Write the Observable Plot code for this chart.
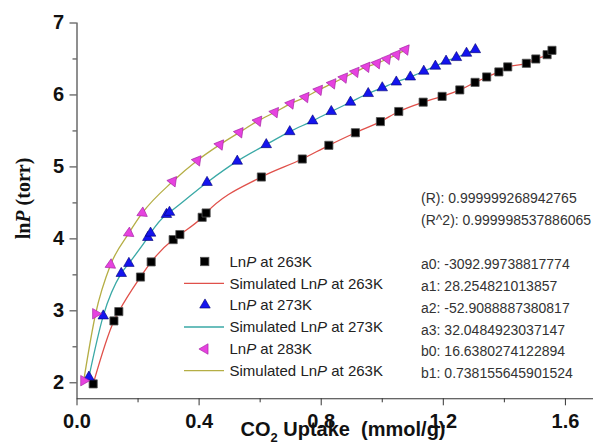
<!DOCTYPE html>
<html><head><meta charset="utf-8">
<script src="https://cdn.jsdelivr.net/npm/d3@7"></script>
<script src="https://cdn.jsdelivr.net/npm/@observablehq/plot@0.6"></script>
<style>body{margin:0;background:#fff} #chart{width:602px;height:448px}</style>
</head><body><div id="chart"></div>
<script>
// ---- data ----
const uptake263 = [0.053, 0.121, 0.137, 0.208, 0.243, 0.315, 0.337, 0.410, 0.423, 0.604, 0.738, 0.825, 0.912, 0.994, 1.054, 1.134, 1.196, 1.254, 1.304, 1.342, 1.382, 1.411, 1.472, 1.503, 1.540, 1.556];
const lnP263   = [1.985, 2.86, 2.99, 3.47, 3.68, 3.99, 4.06, 4.30, 4.36, 4.86, 5.11, 5.30, 5.475, 5.63, 5.77, 5.90, 5.98, 6.07, 6.175, 6.25, 6.32, 6.39, 6.44, 6.50, 6.56, 6.62];
const uptake273 = [0.039, 0.086, 0.145, 0.170, 0.232, 0.241, 0.293, 0.303, 0.426, 0.525, 0.620, 0.697, 0.772, 0.833, 0.896, 0.954, 1.000, 1.046, 1.092, 1.136, 1.174, 1.209, 1.243, 1.276, 1.305];
const lnP273   = [2.08, 2.93, 3.52, 3.66, 4.02, 4.08, 4.34, 4.37, 4.785, 5.08, 5.31, 5.49, 5.64, 5.77, 5.90, 6.02, 6.10, 6.18, 6.25, 6.33, 6.40, 6.47, 6.52, 6.58, 6.63];
const uptake283 = [0.022, 0.061, 0.110, 0.170, 0.214, 0.314, 0.394, 0.468, 0.532, 0.593, 0.648, 0.700, 0.748, 0.792, 0.836, 0.874, 0.912, 0.948, 0.983, 1.016, 1.047, 1.076];
const lnP283   = [2.03, 2.96, 3.64, 4.08, 4.36, 4.80, 5.09, 5.31, 5.48, 5.64, 5.76, 5.88, 5.97, 6.07, 6.16, 6.24, 6.32, 6.39, 6.44, 6.50, 6.56, 6.63];

const xTicks = [0, 0.4, 0.8, 1.2, 1.6];
const xMinor = [0.2, 0.6, 1.0, 1.4];
const yTicks = [2, 3, 4, 5, 6, 7];
const yMinor = [2.5, 3.5, 4.5, 5.5, 6.5];

const legendTemps = ["263K", "263K", "273K", "273K", "283K", "263K"];
const fitLabels = ["(R): 0.999999268942765", "(R^2): 0.999998537886065"];
const paramLabels = ["a0: -3092.99738817774", "a1: 28.254821013857", "a2: -52.9088887380817",
                     "a3: 32.0484923037147", "b0: 16.6380274122894", "b1: 0.738155645901524"];

// ---- build tables ----
const toRows = (xs, ys) => xs.map((x, i) => ({x, y: ys[i]}));
const s263 = toRows(uptake263, lnP263);
const s273 = toRows(uptake273, lnP273);
const s283 = toRows(uptake283, lnP283);

const C = {red: "#e0504a", teal: "#3aa9a6", olive: "#b5ae45", blue: "#1414ee", mag: "#e642df", axis: "#333"};
const yMin = 1.778;

const plot = Plot.plot({
  width: 602, height: 448,
  marginLeft: 76.5, marginRight: 9, marginTop: 22.5, marginBottom: 49.7,
  x: {domain: [0, 1.692]},
  y: {domain: [yMin, 7]},
  style: {fontFamily: "'Liberation Sans', Arial, sans-serif", background: "#fff", color: "#111"},
  marks: [
    Plot.ruleX([0], {stroke: C.axis, strokeWidth: 1.1}),
    Plot.ruleY([yMin], {stroke: C.axis, strokeWidth: 1.1}),
    Plot.axisX(xTicks, {tickSize: 7, tickPadding: 8, fontSize: 20, fontWeight: "bold", stroke: C.axis, fill: "#111", tickFormat: d => d.toFixed(1), label: null}),
    Plot.axisX(xMinor, {tickSize: 4, stroke: C.axis, fill: "none", label: null}),
    Plot.axisY(yTicks, {tickSize: 7, tickPadding: 6, fontSize: 20, fontWeight: "bold", stroke: C.axis, fill: "#111", tickFormat: d => String(d), label: null}),
    Plot.axisY(yMinor, {tickSize: 4, stroke: C.axis, fill: "none", label: null}),
    Plot.line(s263, {x: "x", y: "y", stroke: C.red, strokeWidth: 1.3, curve: "monotone-x"}),
    Plot.line(s273, {x: "x", y: "y", stroke: C.teal, strokeWidth: 1.3, curve: "monotone-x"}),
    Plot.line(s283, {x: "x", y: "y", stroke: C.olive, strokeWidth: 1.3, curve: "monotone-x"}),
    Plot.dot(s263, {x: "x", y: "y", symbol: "square", r: 4.6, fill: "#000", stroke: "#555", strokeWidth: 0.8}),
    Plot.dot(s273, {x: "x", y: "y", symbol: "triangle", r: 3.9, fill: C.blue, stroke: "#000070", strokeWidth: 0.6}),
    Plot.dot(s283, {x: "x", y: "y", symbol: "triangle", r: 3.9, fill: C.mag, stroke: "#a020a0", strokeWidth: 0.6,
                    rotate: d => d.y < 3.2 ? 90 : (d.y < 4.5 ? 125 : 158)})
  ]
});

document.getElementById("chart").appendChild(plot);

// ---- legend, annotations and axis titles ----
const svg = d3.select(plot);
const g = svg.append("g").attr("font-family", "'Liberation Sans', Arial, sans-serif").attr("text-anchor", "start");
const rowY = [261.5, 283.3, 305, 327, 349, 370.7];
const lineColors = [null, C.red, null, C.teal, null, C.olive];
rowY.forEach((y, i) => {
  if (lineColors[i]) {
    g.append("line").attr("x1", 184).attr("x2", 224).attr("y1", y).attr("y2", y)
      .attr("stroke", lineColors[i]).attr("stroke-width", 1.3);
  } else if (i === 0) {
    g.append("rect").attr("x", 200.5).attr("y", y - 4.2).attr("width", 8.4).attr("height", 8.4)
      .attr("fill", "#000").attr("stroke", "#555").attr("stroke-width", 0.8);
  } else {
    const rot = i === 2 ? 0 : 270;
    g.append("path").attr("d", d3.symbol(d3.symbolTriangle, 48)())
      .attr("transform", `translate(205,${y}) rotate(${rot})`)
      .attr("fill", i === 2 ? C.blue : C.mag).attr("stroke", i === 2 ? "#000070" : "#a020a0").attr("stroke-width", 0.6);
  }
  const t = g.append("text").attr("x", 229.5).attr("y", y).attr("dy", "0.35em")
    .attr("font-size", 15).attr("fill", "#222");
  if (lineColors[i]) t.append("tspan").text("Simulated ");
  t.append("tspan").text("Ln");
  t.append("tspan").attr("font-style", "italic").text("P");
  t.append("tspan").text(" at " + legendTemps[i]);
});

const fitY = [198, 220.5];
fitLabels.forEach((s, i) => g.append("text").attr("x", 421).attr("y", fitY[i]).attr("dy", "0.35em")
  .attr("font-size", 14).attr("fill", "#333").text(s));
const parY = [264, 285.8, 308, 329.6, 351.2, 373];
paramLabels.forEach((s, i) => g.append("text").attr("x", 421).attr("y", parY[i]).attr("dy", "0.35em")
  .attr("font-size", 14).attr("fill", "#333").text(s));

// y title
const yt = svg.append("text").attr("transform", "translate(23,198.5) rotate(-90)")
  .attr("text-anchor", "middle").attr("dy", "0.35em")
  .attr("font-family", "'Liberation Serif', 'Times New Roman', serif").attr("font-weight", "bold")
  .attr("font-size", 20).attr("fill", "#111");
yt.append("tspan").text("ln");
yt.append("tspan").attr("font-style", "italic").text("P");
yt.append("tspan").text(" (torr)");

// x title
const xt = svg.append("text").attr("x", 343).attr("y", 436).attr("text-anchor", "middle")
  .attr("font-family", "'Liberation Sans', Arial, sans-serif").attr("font-weight", "bold")
  .attr("font-size", 20).attr("fill", "#111").style("white-space", "pre");
xt.append("tspan").text("CO");
xt.append("tspan").attr("font-size", 13).attr("dy", 6).text("2");
xt.append("tspan").attr("dy", -6).text(" Uptake  (mmol/g)");
</script>
</body></html>
